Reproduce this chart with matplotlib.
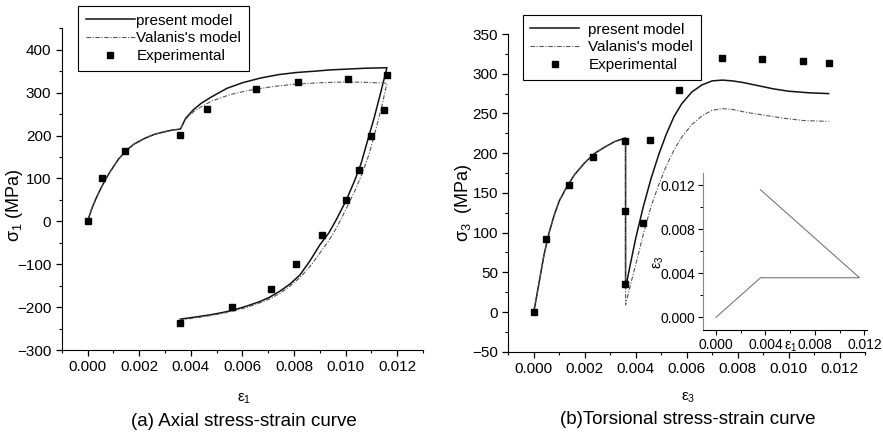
import matplotlib
matplotlib.use('Agg')
import matplotlib.pyplot as plt
from matplotlib.ticker import MultipleLocator, FormatStrFormatter

plt.rcParams['font.family'] = ['Liberation Sans', 'DejaVu Sans']
plt.rcParams['mathtext.fontset'] = 'custom'
plt.rcParams['mathtext.rm'] = 'Liberation Sans'

# (a) axial: experimental points
exp_a_x = [0.0, 0.00056, 0.00145, 0.0036, 0.00464, 0.00653, 0.00815, 0.0101, 0.0116,
           0.01148, 0.01098, 0.01052, 0.01001, 0.00908, 0.00809, 0.00709, 0.00559, 0.0036]
exp_a_y = [0, 100, 163, 202, 263, 308, 325, 332, 340,
           259, 200, 120, 50, -31, -99, -158, -200, -236]

# (a) present model: loading, reloading, unloading
pm_a_x = [0.0, 0.0001, 0.0002, 0.00035, 0.0005, 0.0007, 0.0009, 0.0012, 0.0015, 0.0018,
          0.0022, 0.0026, 0.003, 0.0033, 0.0036,
          0.0038, 0.0041, 0.0044, 0.0048, 0.0054, 0.006, 0.0067, 0.0074, 0.0081,
          0.0088, 0.0094, 0.0101, 0.0108, 0.0116,
          0.01135, 0.0111, 0.01085, 0.0106, 0.01035, 0.01003, 0.00965, 0.00935, 0.009,
          0.00862, 0.00823, 0.00785, 0.00745, 0.00705, 0.00668, 0.00615, 0.00565, 0.0052,
          0.00475, 0.0042, 0.0036]
pm_a_y = [0, 18, 35, 56, 75, 98, 118, 145, 165, 180,
          193, 203, 209, 213, 215,
          240, 260, 275, 290, 310, 323, 334, 342, 347,
          350, 353, 355, 357, 358,
          298, 240, 188, 135, 95, 50, 5, -27, -55,
          -92, -125, -146, -163, -177, -187, -198, -207, -213,
          -218, -223, -228]

# (a) Valanis's model
va_a_x = [0.0, 0.0001, 0.0002, 0.00035, 0.0005, 0.0007, 0.0009, 0.0012, 0.0015, 0.0018,
          0.0022, 0.0026, 0.003, 0.0033, 0.0036,
          0.0038, 0.0041, 0.0044, 0.0048, 0.0055, 0.006, 0.0065, 0.0073, 0.0081,
          0.009, 0.0100, 0.0108, 0.0116,
          0.01139, 0.01113, 0.0109, 0.01063, 0.01035, 0.01003, 0.00965, 0.00935, 0.00905,
          0.00865, 0.00825, 0.00785, 0.00745, 0.00705, 0.00668, 0.00615, 0.00565, 0.0052,
          0.00475, 0.0042, 0.0036]
va_a_y = [0, 18, 35, 56, 75, 98, 118, 145, 165, 180,
          193, 203, 209, 213, 215,
          238, 255, 267, 280, 295, 302, 308, 315, 320,
          323, 325, 324, 322,
          265, 205, 155, 110, 70, 30, -15, -45, -70,
          -103, -130, -151, -168, -181, -190, -201, -209, -215,
          -220, -225, -230]

# (b) torsional: experimental points
exp_b_x = [0.0, 0.00048, 0.00137, 0.00234, 0.00358, 0.00358, 0.00358, 0.00427,
           0.00457, 0.00568, 0.00737, 0.00896, 0.01058, 0.01157]
exp_b_y = [0, 92, 160, 195, 215, 127, 35, 112, 217, 279, 320, 318, 316, 314]

# (b) present model (drop at 0.0036 then reloading)
pm_b_x = [0.0, 0.0001, 0.00025, 0.0004, 0.0006, 0.0008, 0.001, 0.0013, 0.0016, 0.002,
          0.0024, 0.0028, 0.0032, 0.0036,
          0.0036, 0.0038, 0.004, 0.0043, 0.0046, 0.0049, 0.0052, 0.0055, 0.0058, 0.0062,
          0.0066, 0.007, 0.0074, 0.0078, 0.0082, 0.0088, 0.0094, 0.01, 0.0108, 0.01157]
pm_b_y = [0, 18, 45, 72, 100, 122, 140, 158, 173, 188,
          200, 208, 215, 219,
          30, 62, 93, 133, 168, 198, 224, 246, 262, 277,
          286, 291, 292, 291, 289, 285, 281, 278, 276, 275]

# (b) Valanis's model
va_b_x = [0.0, 0.0001, 0.00025, 0.0004, 0.0006, 0.0008, 0.001, 0.0013, 0.0016, 0.002,
          0.0024, 0.0028, 0.0032, 0.0036,
          0.0036, 0.0038, 0.004, 0.0043, 0.0046, 0.0049, 0.0052, 0.0055, 0.0058, 0.0062,
          0.0066, 0.007, 0.0074, 0.0078, 0.0084, 0.009, 0.0098, 0.0106, 0.01157]
va_b_y = [0, 18, 45, 72, 100, 122, 140, 158, 173, 188,
          200, 208, 215, 219,
          9, 35, 60, 98, 133, 160, 184, 204, 220, 236,
          247, 254, 256, 255, 251, 248, 244, 241, 240]

# strain path eps1 vs eps3 (inset)
path_e1 = [0.0, 0.0036, 0.0116, 0.0036]
path_e3 = [0.0, 0.0036, 0.0036, 0.0116]

fig = plt.figure(figsize=(8.83, 4.38), dpi=100)


def style_axes(ax, fs=11):
    ax.spines['top'].set_visible(False)
    ax.spines['right'].set_visible(False)
    ax.tick_params(which='both', direction='out', labelsize=fs)
    ax.tick_params(which='major', length=4, width=0.9)
    ax.tick_params(which='minor', length=2.5, width=0.8)
    ax.xaxis.set_major_locator(MultipleLocator(0.002))
    ax.xaxis.set_minor_locator(MultipleLocator(0.001))
    ax.xaxis.set_major_formatter(FormatStrFormatter('%.3f'))


def add_legend(ax, anchor, textpad):
    leg = ax.legend(loc='upper left', bbox_to_anchor=anchor, bbox_transform=fig.transFigure,
                    fontsize=11, fancybox=False, framealpha=1, edgecolor='black',
                    handlelength=3.2, handletextpad=textpad, borderpad=0.5,
                    labelspacing=0.25, borderaxespad=0)
    leg.get_frame().set_linewidth(0.8)


# Axial stress-strain curve
ax1 = fig.add_axes([0.0699, 0.2009, 0.4092, 0.7345])
ax1.plot(pm_a_x, pm_a_y, color='#111111', lw=1.1, label='present model')
ax1.plot(va_a_x, va_a_y, color='#555555', lw=0.8, ls=(0, (4, 1.5, 1, 1.5)), label="Valanis's model")
ax1.plot(exp_a_x, exp_a_y, 's', color='black', ms=5, ls='none', label='Experimental')
ax1.set_xlim(-0.001, 0.013)
ax1.set_ylim(-300, 450)
ax1.yaxis.set_major_locator(MultipleLocator(100))
ax1.yaxis.set_minor_locator(MultipleLocator(50))
style_axes(ax1)
add_legend(ax1, (0.0887, 0.9863), 0.1)
fig.text(15 / 883, 1 - 205 / 438, r'σ$_1$ (MPa)', rotation=90, ha='center', va='center', fontsize=13)
fig.text(244 / 883, 1 - 399 / 438, r'ε$_1$', ha='center', va='center', fontsize=11)
fig.text(244 / 883, 1 - 421 / 438, '(a) Axial stress-strain curve', ha='center', va='center', fontsize=13.5)

# Torsional stress-strain curve
ax2 = fig.add_axes([0.5757, 0.197, 0.404, 0.7253])
ax2.plot(pm_b_x, pm_b_y, color='#111111', lw=1.1, label='present model')
ax2.plot(va_b_x, va_b_y, color='#555555', lw=0.8, ls=(0, (4, 1.5, 1, 1.5)), label="Valanis's model")
ax2.plot(exp_b_x, exp_b_y, 's', color='black', ms=5, ls='none', label='Experimental')
ax2.set_xlim(-0.001, 0.013)
ax2.set_ylim(-50, 350)
ax2.yaxis.set_major_locator(MultipleLocator(50))
ax2.yaxis.set_minor_locator(MultipleLocator(25))
style_axes(ax2)
add_legend(ax2, (0.592, 0.9658), 0.6)
fig.text(464 / 883, 1 - 203 / 438, r'σ$_3$  (MPa)', rotation=90, ha='center', va='center', fontsize=13)
fig.text(688 / 883, 1 - 398 / 438, r'ε$_3$', ha='center', va='center', fontsize=11)
fig.text(688 / 883, 1 - 419 / 438, '(b)Torsional stress-strain curve', ha='center', va='center', fontsize=13.5)

# inset: loading path
axi = fig.add_axes([0.7958, 0.2466, 0.186, 0.3578])
axi.patch.set_alpha(0)
axi.plot(path_e1, path_e3, color='#777777', lw=0.8)
axi.set_xlim(-0.00107, 0.0122)
axi.set_ylim(-0.00115, 0.0131)
axi.spines['top'].set_visible(False)
axi.spines['right'].set_visible(False)
axi.spines['left'].set_color('#888888')
axi.tick_params(which='both', direction='out', labelsize=10, pad=2)
axi.tick_params(which='major', length=3.5, width=0.8)
axi.tick_params(which='minor', length=2, width=0.7)
axi.xaxis.set_major_locator(MultipleLocator(0.004))
axi.xaxis.set_minor_locator(MultipleLocator(0.002))
axi.yaxis.set_major_locator(MultipleLocator(0.004))
axi.yaxis.set_minor_locator(MultipleLocator(0.002))
axi.xaxis.set_major_formatter(FormatStrFormatter('%.3f'))
axi.yaxis.set_major_formatter(FormatStrFormatter('%.3f'))
axi.text(0.006, -0.002, r'ε$_1$', transform=axi.transData, ha='center', va='top', fontsize=10)
axi.text(-0.27, 0.43, r'ε$_3$', transform=axi.transAxes, rotation=90, ha='center', va='center', fontsize=10)

plt.savefig('out.png', dpi=100)
